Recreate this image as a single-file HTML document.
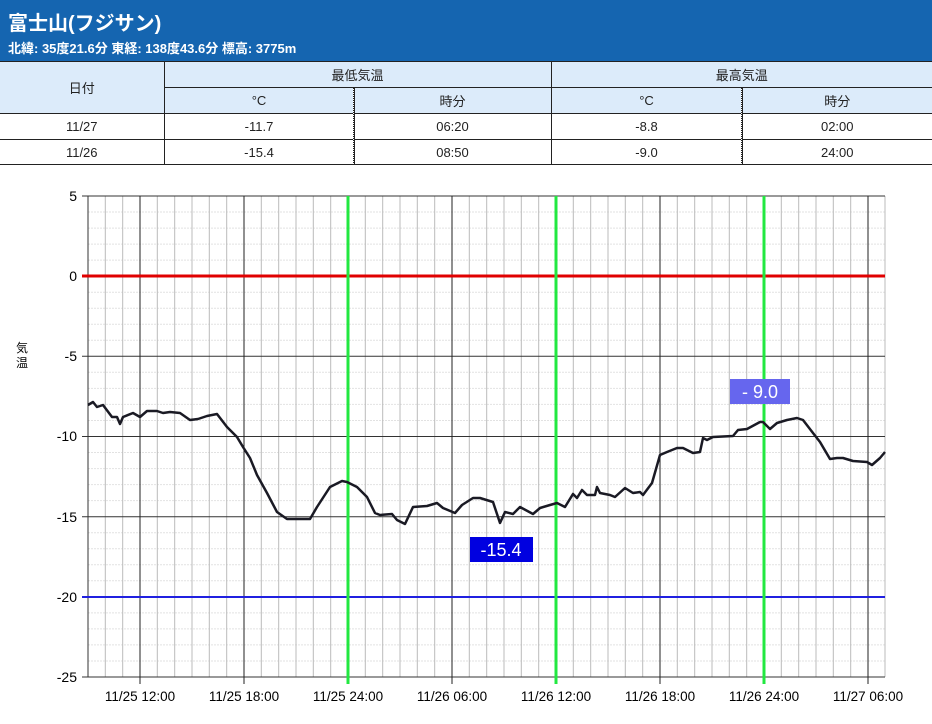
<!DOCTYPE html>
<html><head><meta charset="utf-8"><style>
body{margin:0;width:932px;height:724px;background:#fff;font-family:"Liberation Sans","Noto Sans CJK JP",sans-serif;overflow:hidden;position:relative}
.hdr{position:absolute;left:0;top:0;width:932px;height:61px;background:#1565b0;color:#fff}
.hdr .t{position:absolute;left:8px;top:7px;font-size:20px;font-weight:bold}
.hdr .s{position:absolute;left:8px;top:38px;font-size:13px;font-weight:bold}
table{position:absolute;left:0;top:61px;width:932px;border-collapse:collapse;font-size:13px;color:#222}
td{text-align:center;padding:0;border:1px solid #222}
.h td{background:#dcebfa}
tr{height:26px}
</style></head><body>
<div class="hdr"><div class="t">富士山(フジサン)</div><div class="s">北緯: 35度21.6分 東経: 138度43.6分 標高: 3775m</div></div>
<table>
<colgroup><col style="width:164px"><col style="width:190px"><col style="width:197px"><col style="width:191px"><col style="width:190px"></colgroup>
<tr class="h"><td rowspan="2" style="border-left:none">日付</td><td colspan="2">最低気温</td><td colspan="2" style="border-right:none">最高気温</td></tr>
<tr class="h"><td>°C</td><td>時分</td><td>°C</td><td style="border-right:none">時分</td></tr>
<tr><td style="border-left:none">11/27</td><td>-11.7</td><td>06:20</td><td>-8.8</td><td style="border-right:none">02:00</td></tr>
<tr style="height:25px"><td style="border-left:none">11/26</td><td>-15.4</td><td>08:50</td><td>-9.0</td><td style="border-right:none">24:00</td></tr>
</table>
<svg width="932" height="724" style="position:absolute;left:0;top:0" font-family="Liberation Sans, sans-serif">
<path stroke="#e2e2e2" stroke-dasharray="2,1" fill="none" d="M88 212H885M88 228.1H885M88 244.1H885M88 260.1H885M88 292.2H885M88 308.2H885M88 324.2H885M88 340.3H885M88 372.3H885M88 388.4H885M88 404.4H885M88 420.5H885M88 452.5H885M88 468.6H885M88 484.6H885M88 500.6H885M88 532.7H885M88 548.7H885M88 564.8H885M88 580.8H885M88 612.9H885M88 628.9H885M88 644.9H885M88 661H885"/>
<path stroke="#bbb" fill="none" d="M105.3 196V677M122.7 196V677M157.3 196V677M174.7 196V677M192 196V677M209.3 196V677M226.7 196V677M261.3 196V677M278.7 196V677M296 196V677M313.3 196V677M330.7 196V677M365.3 196V677M382.7 196V677M400 196V677M417.3 196V677M434.7 196V677M469.3 196V677M486.7 196V677M504 196V677M521.3 196V677M538.7 196V677M573.3 196V677M590.7 196V677M608 196V677M625.3 196V677M642.7 196V677M677.3 196V677M694.7 196V677M712 196V677M729.3 196V677M746.7 196V677M781.3 196V677M798.7 196V677M816 196V677M833.3 196V677M850.7 196V677M885 196V677"/>
<path stroke="#333" fill="none" d="M82 196H885M82 356.3H885M82 436.5H885M82 516.7H885M82 677H885M88 196V677"/>
<path stroke="#222" fill="none" d="M140 196V684M244 196V684M452 196V684M660 196V684M868 196V684"/>
<g font-size="14" text-anchor="end">
<text x="77" y="201">5</text><text x="77" y="281">0</text><text x="77" y="361">-5</text><text x="77" y="441">-10</text><text x="77" y="522">-15</text><text x="77" y="602">-20</text><text x="77" y="682">-25</text>
</g>
<g font-size="13.5" text-anchor="middle">
<text x="140" y="701">11/25 12:00</text><text x="244" y="701">11/25 18:00</text><text x="348" y="701">11/25 24:00</text><text x="452" y="701">11/26 06:00</text><text x="556" y="701">11/26 12:00</text><text x="660" y="701">11/26 18:00</text><text x="764" y="701">11/26 24:00</text><text x="868" y="701">11/27 06:00</text>
</g>
<line x1="82" x2="885" y1="276" y2="276" stroke="#e00000" stroke-width="3"/>
<line x1="82" x2="885" y1="597" y2="597" stroke="#2020e0" stroke-width="2"/>
<path stroke="#22e840" stroke-width="3" fill="none" d="M348 196V684M556 196V684M764 196V684"/>
<polyline fill="none" stroke="#1a1a24" stroke-width="2.5" stroke-linejoin="round" points="88,405 93,402 97,407 103,405 112,417 117,417 120,424 123,417 133,413 140,417 147,411 157,411 163,413 170,412 180,413 190,420 198,419 207,416 217,414 227,427 237,437 243,447 250,458 257,475 267,493 277,512 287,519 310,519 317,507 330,487 342,481 347,482 357,487 367,497 375,513 380,515 392,514 397,520 405,524 413,507 427,506 437,503 443,508 455,513 462,505 473,498 480,498 493,502 500,523 505,512 513,514 520,507 533,514 540,508 550,505 557,503 565,507 573,494 577,498 582,490 587,495 595,495 597,487 600,493 610,495 615,497 625,488 633,493 640,492 643,495 652,483 660,455 667,452 677,448 683,448 693,453 700,452 703,438 707,440 713,437 733,436 738,430 747,429 760,422 763,422 770,429 777,423 787,420 797,418 803,420 813,433 820,442 830,459 837,458 843,458 853,461 867,462 872,465 880,458 885,452"/>
<rect x="470" y="537" width="63" height="25" fill="#0000e0"/><text x="501" y="556" font-size="18" fill="#fff" text-anchor="middle">-15.4</text>
<rect x="730" y="379" width="60" height="25" fill="#6666ee"/><text x="760" y="398" font-size="18" fill="#fff" text-anchor="middle">- 9.0</text>
<text font-size="12" font-family="Noto Sans CJK JP, sans-serif" x="22" y="352" text-anchor="middle">気</text>
<text font-size="12" font-family="Noto Sans CJK JP, sans-serif" x="22" y="367" text-anchor="middle">温</text>
<line x1="353.5" x2="353.5" y1="88" y2="165" stroke="#fff"/><line x1="353.5" x2="353.5" y1="88" y2="165" stroke="#222" stroke-dasharray="1,1"/>
<line x1="741.5" x2="741.5" y1="88" y2="165" stroke="#fff"/><line x1="741.5" x2="741.5" y1="88" y2="165" stroke="#222" stroke-dasharray="1,1"/>
</svg>
</body></html>
